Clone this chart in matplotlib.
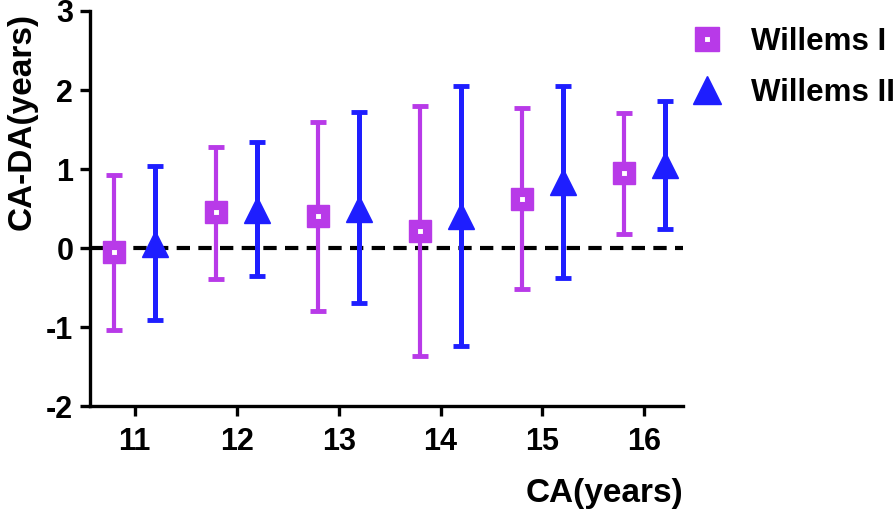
import matplotlib
matplotlib.use("Agg")
import matplotlib.pyplot as plt
import numpy as np

plt.rcParams['font.family'] = ['Liberation Sans', 'DejaVu Sans']
plt.rcParams['font.weight'] = 'bold'
plt.rcParams['axes.unicode_minus'] = False

# donnees
ages = [11, 12, 13, 14, 15, 16]
w1_moy = [-0.05, 0.45, 0.40, 0.22, 0.62, 0.95]
w1_bas = [-1.04, -0.39, -0.80, -1.37, -0.52, 0.18]
w1_haut = [0.92, 1.28, 1.60, 1.80, 1.77, 1.71]
w2_moy = [0.05, 0.48, 0.50, 0.40, 0.84, 1.05]
w2_bas = [-0.91, -0.36, -0.69, -1.24, -0.38, 0.24]
w2_haut = [1.04, 1.34, 1.72, 2.05, 2.05, 1.86]

violet = '#B83AE8'
bleu = '#1E1EFF'
decalage = 0.2

fig = plt.figure(figsize=(8.96, 5.14), dpi=100)
ax = fig.add_axes([0.1004, 0.2101, 0.662, 0.7685])

x1 = np.array(ages) - decalage
x2 = np.array(ages) + decalage

# ligne zero
ax.axhline(0, color='black', lw=3, ls=(0, (3.2, 2.0)), zorder=1)

err1 = [np.array(w1_moy) - np.array(w1_bas), np.array(w1_haut) - np.array(w1_moy)]
err2 = [np.array(w2_moy) - np.array(w2_bas), np.array(w2_haut) - np.array(w2_moy)]

ax.errorbar(x1, w1_moy, yerr=err1, fmt='none', ecolor=violet, elinewidth=3,
            capsize=6, capthick=3.5, zorder=2)
ax.errorbar(x2, w2_moy, yerr=err2, fmt='none', ecolor=bleu, elinewidth=3.6,
            capsize=6, capthick=3.5, zorder=2)

h_carre, = ax.plot(x1, w1_moy, 's', color=violet, ms=16, mec=violet, zorder=3)
h_int, = ax.plot(x1, w1_moy, 's', mfc='white', mec=violet, mew=0.8, ms=4.5, zorder=4)
h_tri, = ax.plot(x2, w2_moy, '^', color=bleu, ms=19, mec=bleu, zorder=3)

ax.set_xlim(10.56, 16.38)
ax.set_ylim(-2, 3)
ax.set_xticks(ages)
ax.set_yticks([-2, -1, 0, 1, 2, 3])

for s in ['top', 'right']:
    ax.spines[s].set_visible(False)
for s in ['left', 'bottom']:
    ax.spines[s].set_linewidth(2.4)
ax.tick_params(width=2.4, length=7, labelsize=22, pad=5)
ax.tick_params(axis='x', pad=8)

fig.text(0.025, 0.763, 'CA-DA(years)', fontsize=24, fontweight='bold',
         rotation=90, ha='center', va='center')
fig.text(0.762, 0.04, 'CA(years)', fontsize=24, fontweight='bold', ha='right', va='center')

ax.legend([(h_carre, h_int), h_tri], ['Willems I', 'Willems II'],
          loc='upper left', bbox_to_anchor=(0.758, 0.972), bbox_transform=fig.transFigure,
          frameon=False, fontsize=22.5, handlelength=1.0, handletextpad=0.9,
          labelspacing=0.68, markerscale=1.05, borderaxespad=0)

fig.savefig('out.png', dpi=100)
